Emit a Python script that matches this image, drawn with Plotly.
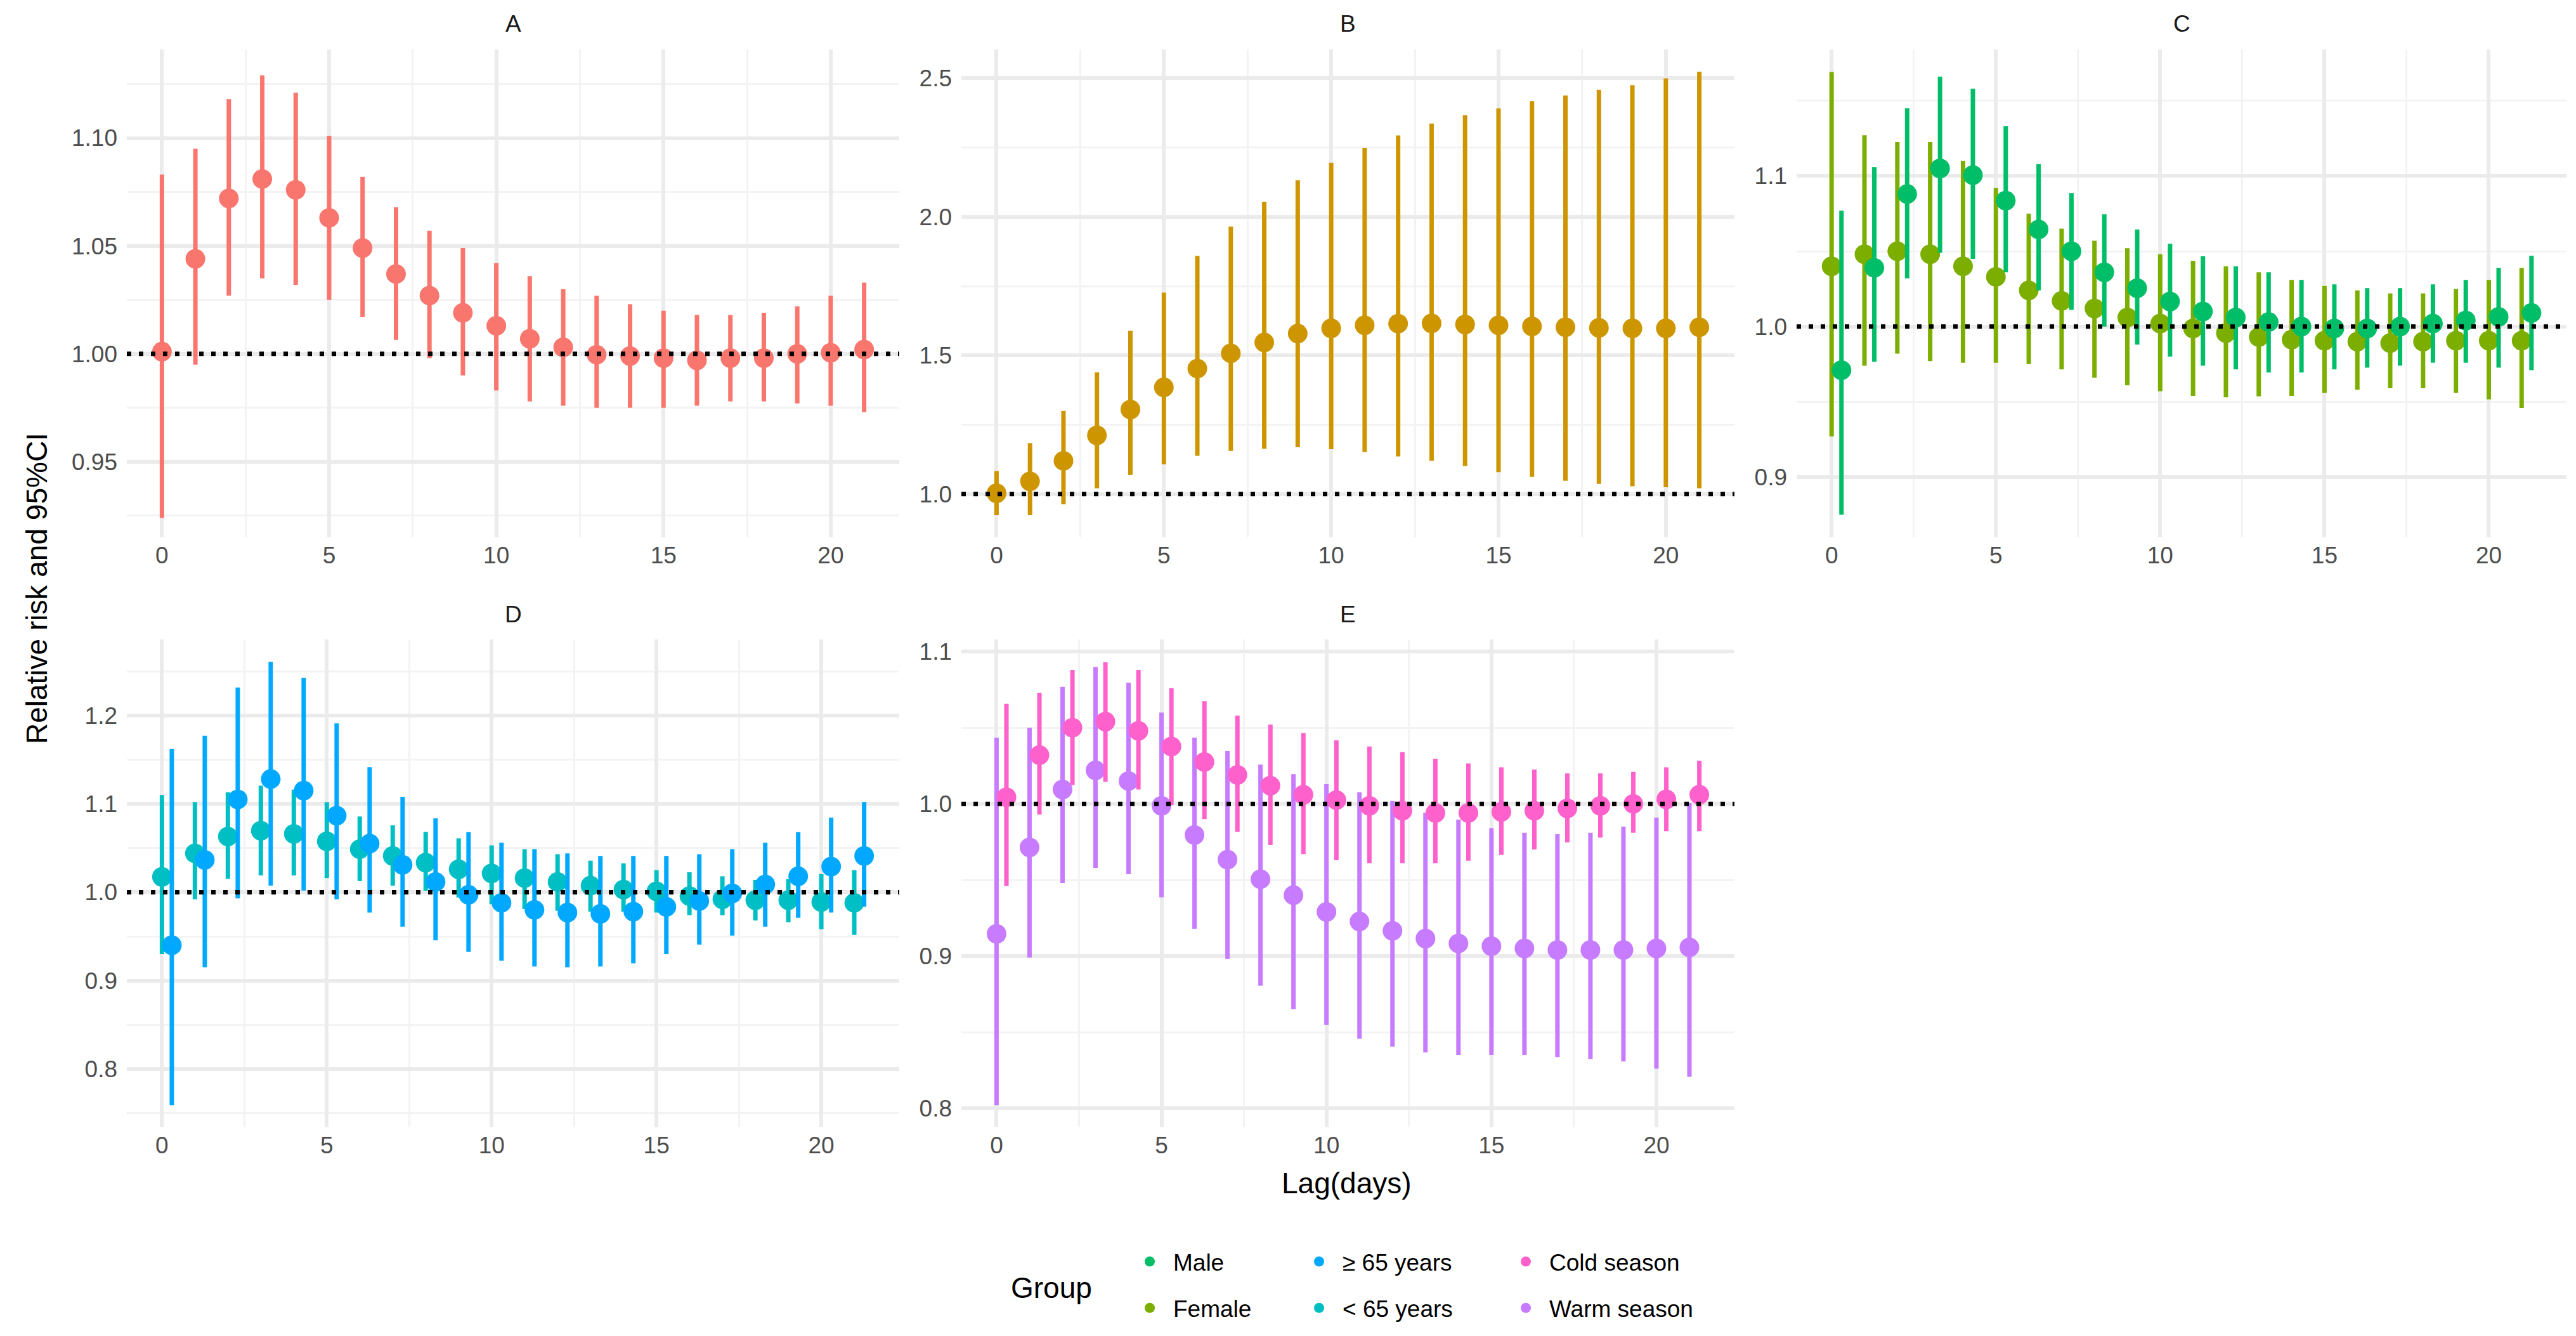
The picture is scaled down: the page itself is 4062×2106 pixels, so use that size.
import numpy as np
import plotly.graph_objects as go
from plotly.subplots import make_subplots

W, H = 4062, 2106

lag = np.arange(22)

# Panel A - all
a_rr = [1.001, 1.044, 1.072, 1.081, 1.076, 1.063, 1.049, 1.037, 1.027, 1.019, 1.013,
        1.007, 1.003, 0.9996, 0.999, 0.998, 0.997, 0.998, 0.998, 1.000, 1.0005, 1.002]
a_hi = [1.083, 1.095, 1.118, 1.129, 1.121, 1.101, 1.082, 1.068, 1.057, 1.049, 1.042,
        1.036, 1.030, 1.027, 1.023, 1.020, 1.018, 1.018, 1.019, 1.022, 1.027, 1.033]
a_lo = [0.924, 0.995, 1.027, 1.035, 1.032, 1.025, 1.017, 1.0065, 0.998, 0.990, 0.983,
        0.978, 0.976, 0.975, 0.975, 0.975, 0.976, 0.978, 0.978, 0.977, 0.976, 0.973]

# Panel B - cumulative
b_rr = [1.003, 1.046, 1.120, 1.212, 1.305, 1.385, 1.453, 1.508, 1.547, 1.579, 1.598,
        1.609, 1.615, 1.616, 1.612, 1.609, 1.605, 1.602, 1.600, 1.598, 1.598, 1.602]
b_hi = [1.083, 1.184, 1.300, 1.439, 1.589, 1.727, 1.859, 1.965, 2.055, 2.132, 2.195,
        2.249, 2.294, 2.337, 2.367, 2.392, 2.418, 2.438, 2.458, 2.475, 2.500, 2.524]
b_lo = [0.924, 0.924, 0.963, 1.021, 1.069, 1.107, 1.138, 1.156, 1.163, 1.169, 1.162,
        1.152, 1.136, 1.120, 1.101, 1.079, 1.062, 1.048, 1.037, 1.028, 1.025, 1.021]

# Panel C - sex
male_rr = [0.971, 1.039, 1.088, 1.105, 1.1006, 1.0836, 1.0645, 1.050, 1.036, 1.0255, 1.0166,
           1.010, 1.006, 1.003, 1.000, 0.9987, 0.9987, 1.000, 1.002, 1.004, 1.0064, 1.009]
male_hi = [1.077, 1.106, 1.145, 1.166, 1.158, 1.133, 1.108, 1.0887, 1.0746, 1.0645, 1.055,
           1.0466, 1.040, 1.036, 1.031, 1.028, 1.0255, 1.0255, 1.028, 1.031, 1.039, 1.047]
male_lo = [0.875, 0.9766, 1.032, 1.049, 1.045, 1.036, 1.024, 1.011, 1.000, 0.988, 0.980,
           0.974, 0.9715, 0.9694, 0.9694, 0.9715, 0.9727, 0.974, 0.976, 0.976, 0.9727, 0.971]
female_rr = [1.040, 1.048, 1.050, 1.048, 1.040, 1.033, 1.024, 1.017, 1.012, 1.006, 1.002,
             0.9987, 0.9957, 0.993, 0.9913, 0.9906, 0.990, 0.989, 0.990, 0.9906, 0.9906, 0.9906]
female_hi = [1.169, 1.127, 1.1225, 1.1225, 1.110, 1.092, 1.075, 1.065, 1.057, 1.052, 1.048,
             1.0436, 1.040, 1.036, 1.031, 1.027, 1.024, 1.022, 1.022, 1.025, 1.031, 1.039]
female_lo = [0.927, 0.974, 0.982, 0.977, 0.976, 0.976, 0.975, 0.9715, 0.966, 0.961, 0.957,
             0.954, 0.953, 0.9536, 0.954, 0.956, 0.958, 0.959, 0.959, 0.956, 0.9516, 0.946]

# Panel D - age
old_rr = [0.940, 1.0366, 1.105, 1.128, 1.115, 1.0866, 1.055, 1.031, 1.0117, 0.997, 0.988,
          0.980, 0.977, 0.9756, 0.978, 0.9835, 0.990, 0.9987, 1.0087, 1.018, 1.029, 1.041]
old_hi = [1.162, 1.177, 1.2316, 1.2607, 1.2424, 1.191, 1.1415, 1.108, 1.0836, 1.068, 1.056,
          1.0487, 1.044, 1.041, 1.041, 1.041, 1.043, 1.0487, 1.056, 1.068, 1.0844, 1.102]
old_lo = [0.759, 0.915, 0.993, 1.0074, 1.002, 0.992, 0.977, 0.961, 0.9456, 0.9325, 0.9225,
          0.916, 0.915, 0.916, 0.9195, 0.930, 0.9408, 0.951, 0.961, 0.971, 0.977, 0.9835]
young_rr = [1.0174, 1.044, 1.063, 1.0696, 1.066, 1.0575, 1.0487, 1.041, 1.0335, 1.026, 1.0213,
            1.016, 1.0117, 1.0074, 1.003, 1.001, 0.9956, 0.992, 0.991, 0.991, 0.989, 0.988]
young_hi = [1.110, 1.102, 1.113, 1.1206, 1.116, 1.102, 1.0857, 1.0757, 1.0683, 1.061, 1.053,
            1.0487, 1.043, 1.0357, 1.0326, 1.025, 1.0226, 1.018, 1.014, 1.0148, 1.0205, 1.025]
young_lo = [0.930, 0.992, 1.015, 1.019, 1.019, 1.016, 1.0126, 1.0074, 1.0017, 0.994, 0.9865,
            0.981, 0.979, 0.978, 0.978, 0.977, 0.974, 0.974, 0.968, 0.966, 0.958, 0.9517]

# Panel E - season
cold_rr = [1.0043, 1.032, 1.050, 1.054, 1.048, 1.0377, 1.0275, 1.019, 1.0119, 1.006, 1.0025,
           0.9987, 0.9955, 0.994, 0.994, 0.9947, 0.9955, 0.997, 0.9987, 1.000, 1.003, 1.006]
cold_hi = [1.0657, 1.073, 1.088, 1.093, 1.088, 1.076, 1.0675, 1.058, 1.052, 1.0465, 1.0417,
           1.0377, 1.034, 1.0296, 1.0265, 1.024, 1.0225, 1.020, 1.020, 1.021, 1.024, 1.0283]
cold_lo = [0.946, 0.993, 1.0124, 1.0144, 1.0094, 0.9992, 0.990, 0.9816, 0.973, 0.967, 0.963,
           0.961, 0.961, 0.961, 0.9626, 0.9664, 0.970, 0.9747, 0.9778, 0.981, 0.982, 0.982]
warm_rr = [0.9146, 0.9714, 1.0094, 1.022, 1.015, 0.9987, 0.9795, 0.9634, 0.9505, 0.940, 0.929,
           0.9227, 0.9166, 0.9115, 0.9083, 0.9065, 0.905, 0.904, 0.904, 0.904, 0.905, 0.9057]
warm_hi = [1.0435, 1.050, 1.0768, 1.090, 1.0796, 1.060, 1.0435, 1.0346, 1.0258, 1.0195, 1.013,
           1.0076, 1.0018, 0.9942, 0.9896, 0.984, 0.981, 0.980, 0.981, 0.985, 0.991, 1.0005]
warm_lo = [0.802, 0.899, 0.948, 0.958, 0.9538, 0.9386, 0.918, 0.898, 0.8805, 0.865, 0.8547,
           0.8456, 0.8405, 0.8367, 0.835, 0.835, 0.835, 0.8337, 0.8324, 0.8307, 0.826, 0.8206]

nudge = 0.3

fig = make_subplots(rows=2, cols=3, specs=[[{}, {}, {}], [{}, {}, None]])


def add_series(x, rr, lo, hi, color, row, col):
    rr = np.array(rr)
    fig.add_trace(go.Scatter(
        x=x, y=rr, mode="markers",
        marker=dict(color=color, size=31),
        error_y=dict(type="data", symmetric=False,
                     array=np.array(hi) - rr, arrayminus=rr - np.array(lo),
                     color=color, thickness=7, width=0),
        showlegend=False,
    ), row=row, col=col)


add_series(lag, a_rr, a_lo, a_hi, "#F8766D", 1, 1)
add_series(lag, b_rr, b_lo, b_hi, "#CD9600", 1, 2)
add_series(lag, female_rr, female_lo, female_hi, "#7CAE00", 1, 3)
add_series(lag + nudge, male_rr, male_lo, male_hi, "#00BE67", 1, 3)
add_series(lag, young_rr, young_lo, young_hi, "#00BFC4", 2, 1)
add_series(lag + nudge, old_rr, old_lo, old_hi, "#00A9FF", 2, 1)
add_series(lag, warm_rr, warm_lo, warm_hi, "#C77CFF", 2, 2)
add_series(lag + nudge, cold_rr, cold_lo, cold_hi, "#FF61CC", 2, 2)

# legend entries, arranged in three columns like the original
legend_items = [
    ("Male", "#00BE67", "legend"), ("Female", "#7CAE00", "legend"),
    ("≥ 65 years", "#00A9FF", "legend2"), ("< 65 years", "#00BFC4", "legend2"),
    ("Cold season", "#FF61CC", "legend3"), ("Warm season", "#C77CFF", "legend3"),
]
for nm, c, lg in legend_items:
    fig.add_trace(go.Scatter(x=[None], y=[None], mode="markers",
                             marker=dict(color=c, size=16),
                             name=nm, legend=lg, legendgroup=nm, showlegend=True),
                  row=1, col=1)

# panel geometry in pixels
xdom = [(192, 1410), (1508, 2727), (2825, 4039)]
ydom = [(70, 839), (1000, 1769)]

panels = [
    ("A", 1, 1, [-1.05, 22.05], [0.915, 1.141], 0.05, 1.0, ".2f"),
    ("B", 1, 2, [-1.05, 22.05], [0.844, 2.604], 0.5, 1.0, ".1f"),
    ("C", 1, 3, [-1.065, 22.365], [0.860, 1.184], 0.1, 1.0, ".1f"),
    ("D", 2, 1, [-1.065, 22.365], [0.734, 1.286], 0.1, 1.0, ".1f"),
    ("E", 2, 2, [-1.065, 22.365], [0.7875, 1.108], 0.1, 1.0, ".1f"),
]

tick_font = dict(family="Liberation Sans, Arial", size=37, color="#4D4D4D")
grid_major = "#EBEBEB"
grid_minor = "#F3F3F3"

annotations = []
for i, (lab, r, c, xr, yr, dy, y0, fmt) in enumerate(panels):
    n = "" if i == 0 else str(i + 1)
    x0p, x1p = xdom[c - 1]
    y0p, y1p = ydom[r - 1]
    fig.update_layout({
        "xaxis" + n: dict(domain=[x0p / W, x1p / W], range=xr, tick0=0, dtick=5,
                          showgrid=True, gridcolor=grid_major, gridwidth=6,
                          zeroline=False, showline=False, ticks="",
                          tickfont=tick_font, ticklabelstandoff=3,
                          minor=dict(dtick=2.5, tick0=0, showgrid=True,
                                     gridcolor=grid_minor, gridwidth=3)),
        "yaxis" + n: dict(domain=[1 - y1p / H, 1 - y0p / H], range=yr, tick0=y0, dtick=dy,
                          tickformat=fmt, showgrid=True, gridcolor=grid_major, gridwidth=6,
                          zeroline=False, showline=False, ticks="",
                          tickfont=tick_font, ticklabelstandoff=14,
                          minor=dict(dtick=dy / 2, tick0=y0, showgrid=True,
                                     gridcolor=grid_minor, gridwidth=3)),
    })
    fig.add_hline(y=1, line=dict(color="black", width=7, dash="7px,12px"),
                  layer="above", row=r, col=c)
    annotations.append(dict(text=lab, x=(x0p + x1p) / 2 / W, y=1 - (y0p - 40) / H,
                            xref="paper", yref="paper", showarrow=False,
                            xanchor="center", yanchor="middle",
                            font=dict(family="Liberation Sans, Arial", size=37, color="#1A1A1A")))

title_font = dict(family="Liberation Sans, Arial", size=46, color="black")
annotations += [
    dict(text="Relative risk and 95%CI", x=50 / W, y=1 - 920 / H, textangle=-90,
         xref="paper", yref="paper", showarrow=False,
         xanchor="center", yanchor="middle", font=title_font),
    dict(text="Lag(days)", x=2115 / W, y=1 - 1857 / H,
         xref="paper", yref="paper", showarrow=False,
         xanchor="center", yanchor="middle", font=title_font),
    dict(text="Group", x=1650 / W, y=1 - 2022 / H,
         xref="paper", yref="paper", showarrow=False,
         xanchor="center", yanchor="middle", font=title_font),
]

leg_font = dict(family="Liberation Sans, Arial", size=37, color="black")
leg_common = dict(orientation="v", yanchor="top", y=1 - 1950 / H, xanchor="left",
                  font=leg_font, tracegroupgap=22, bgcolor="rgba(0,0,0,0)",
                  itemwidth=64, itemclick=False)

fig.update_layout(
    width=W, height=H,
    margin=dict(l=0, r=0, t=0, b=0),
    paper_bgcolor="white", plot_bgcolor="white",
    annotations=annotations,
    legend=dict(x=1768 / W, **leg_common),
    legend2=dict(x=2035 / W, **leg_common),
    legend3=dict(x=2361 / W, **leg_common),
)

fig.write_html("out.html")
